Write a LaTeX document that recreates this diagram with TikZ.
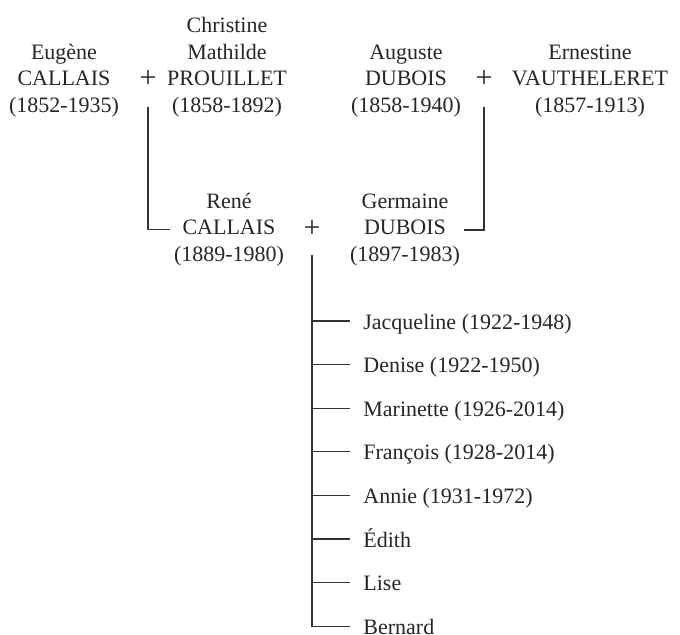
\documentclass[tikz,border=0pt]{standalone}
\usepackage{fontspec}
\setmainfont{Liberation Serif}
\usepackage{tikz}
\usetikzlibrary{positioning}
\tikzset {
	person/.style={align=center, inner sep=0pt, inner xsep=2pt, anchor=south},
	marriage/.style={inner sep=0pt, anchor=base, font=\fontsize{15}{15}\selectfont},
	kidEntry/.style={anchor=west, inner xsep=6.5pt, inner ysep=0pt, text height=8pt, text depth=0pt},
	connector/.style={draw=black!80, line width=.6pt}
}

\begin{document}
\begin{tikzpicture}[x=.5pt, y=-.5pt, font=\fontsize{11}{13.25}\selectfont, color=black!85]
					\useasboundingbox (0,0) rectangle (680,634);
					% grandparents
					\node [person] (eugene) at (64,117.5) {Eugène\\CALLAIS\\(1852-1935)};
					\node [marriage] (plus1) at (148,87) {+};
					\node [person] (christine) at (227,117.5) {Christine\\Mathilde\\PROUILLET\\(1858-1892)};
					\node [person] (auguste) at (406,117.5) {Auguste\\DUBOIS\\(1858-1940)};
					\node [marriage] (plus2) at (484,87) {+};
					\node [person] (ernestine) at (590,117.5) {Ernestine\\VAUTHELERET\\(1857-1913)};
					% parents
					\node [person] (rene) at (229,266.5) {René\\CALLAIS\\(1889-1980)};
					\node [marriage] (plus3) at (312,237) {+};
					\node [person] (germaine) at (405,266.5) {Germaine\\DUBOIS\\(1897-1983)};
					\coordinate (fromLeft) at (plus1 |- 0,107);
					\coordinate (fromRight) at (plus2 |- 0,107);
					\coordinate (fromKids) at (plus3 |- 0,255);
					\draw [connector] (fromLeft) |- (rene.west);
					\draw [connector] (fromRight) |- (germaine.east);
					% children
					\foreach \kid [count=\i] in {Jacqueline (1922-1948), Denise (1922-1950), Marinette (1926-2014),
							François (1928-2014), Annie (1931-1972), Édith, Lise, Bernard} {
						\node [kidEntry] (kid\i) at (350,{321+43.6*(\i-1)}) {\kid};
						\draw [connector] (fromKids) |- (kid\i.west);
					}
\end{tikzpicture}
\end{document}
